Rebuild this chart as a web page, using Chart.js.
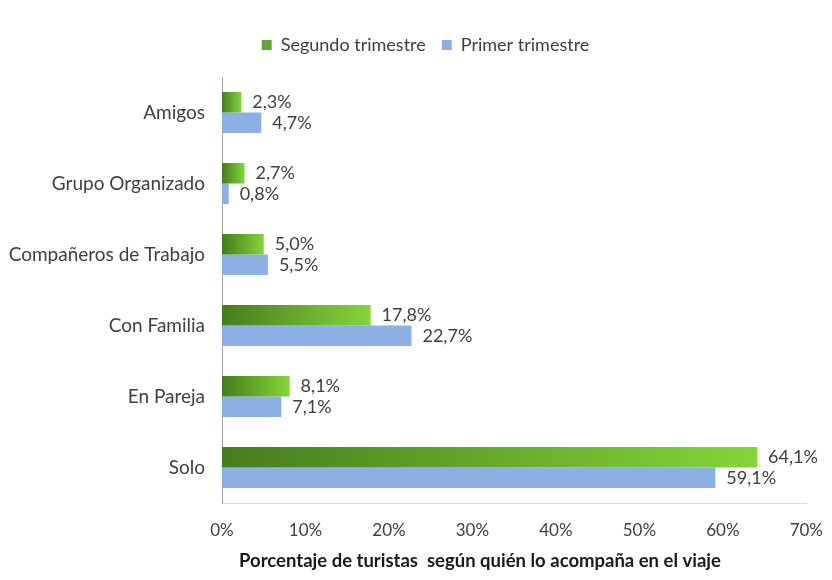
<!DOCTYPE html>
<html lang="es">
<head>
  <meta charset="UTF-8">
  <title>Compañía en el viaje</title>
  <script src="https://cdn.jsdelivr.net/npm/chart.js"></script>
  <style>
    html, body { margin: 0; padding: 0; background: #fff; }
    #wrap { width: 832px; height: 580px; }
  </style>
</head>
<body>
  <div id="wrap"><canvas id="chart" width="832" height="580"></canvas></div>
  <script>
    // datos
    const categories = ['Amigos', 'Grupo Organizado', 'Compañeros de Trabajo', 'Con Familia', 'En Pareja', 'Solo'];
    const segundoTrimestre = [2.3, 2.7, 5.0, 17.8, 8.1, 64.1];
    const primerTrimestre = [4.7, 0.8, 5.5, 22.7, 7.1, 59.1];
    const seriesNames = ['Segundo trimestre', 'Primer trimestre'];
    const xTicks = [0, 10, 20, 30, 40, 50, 60, 70];
    const axisTitle = 'Porcentaje de turistas  según quién lo acompaña en el viaje';

    const FONT = 'Lato, "Open Sans", sans-serif';
    const TEXT = '#404040';

    const fmt = v => v.toFixed(1).replace('.', ',') + '%';

    // degradado verde por barra, oscuro a la izquierda
    function greenFill(ctx) {
      const chart = ctx.chart;
      if (ctx.type !== 'data' || !chart.chartArea) return '#6cbd33';
      const xs = chart.scales.x;
      const x0 = xs.getPixelForValue(0);
      const x1 = xs.getPixelForValue(ctx.raw);
      if (!isFinite(x0) || !isFinite(x1) || x1 - x0 < 1) return '#6cbd33';
      const g = chart.ctx.createLinearGradient(x0, 0, x1, 0);
      g.addColorStop(0, '#467c1d');
      g.addColorStop(1, '#84d53b');
      return g;
    }

    const valueLabels = {
      id: 'valueLabels',
      afterDatasetsDraw(chart) {
        const c = chart.ctx;
        c.save();
        c.font = '18px ' + FONT;
        c.fillStyle = TEXT;
        c.textBaseline = 'middle';
        c.textAlign = 'left';
        chart.data.datasets.forEach((ds, i) => {
          chart.getDatasetMeta(i).data.forEach((bar, j) => {
            c.fillText(fmt(ds.data[j]), bar.x + 11, bar.y);
          });
        });
        c.restore();
      }
    };

    const bottomTitle = {
      id: 'bottomTitle',
      afterDraw(chart) {
        const c = chart.ctx;
        c.save();
        c.font = 'bold 18.5px ' + FONT;
        c.fillStyle = '#1a1a1a';
        c.textAlign = 'center';
        c.textBaseline = 'middle';
        c.fillText(axisTitle, 480, 561);
        c.restore();
      }
    };

    // leyenda: alto fijo y un poco desplazada a la derecha como en el original
    const legendTweak = {
      id: 'legendTweak',
      afterInit(chart) {
        const lg = chart.legend;
        if (!lg) return;
        const fit = lg.fit.bind(lg);
        lg.fit = function () { fit(); this.height = 57; };
        const draw = lg.draw.bind(lg);
        lg.draw = function () {
          const c = this.ctx;
          c.save();
          c.translate(22, 0);
          draw();
          c.restore();
        };
      }
    };

    new Chart(document.getElementById('chart'), {
      type: 'bar',
      data: {
        labels: categories,
        datasets: [
          { label: seriesNames[0], data: segundoTrimestre, backgroundColor: greenFill },
          { label: seriesNames[1], data: primerTrimestre, backgroundColor: '#8cb0e4' }
        ]
      },
      options: {
        indexAxis: 'y',
        responsive: false,
        animation: false,
        categoryPercentage: 0.58,
        barPercentage: 1.0,
        layout: { padding: { top: 20, left: 0, right: 25, bottom: 0 } },
        plugins: {
          tooltip: { enabled: false },
          legend: {
            position: 'top',
            labels: {
              font: { family: FONT, size: 18 },
              color: TEXT,
              boxWidth: 10,
              boxHeight: 10,
              padding: 16,
              generateLabels(chart) {
                const items = Chart.defaults.plugins.legend.labels.generateLabels(chart);
                items[0].fillStyle = '#5ea733';
                items.forEach(it => { it.lineWidth = 0; it.strokeStyle = 'rgba(0,0,0,0)'; });
                return items;
              }
            }
          }
        },
        scales: {
          x: {
            min: 0,
            max: 70,
            afterBuildTicks(scale) { scale.ticks = xTicks.map(v => ({ value: v })); },
            ticks: { callback: v => v + '%', color: TEXT, font: { family: FONT, size: 17 }, padding: 9 },
            grid: { display: false },
            border: { display: true, color: '#d9d9d9' },
            afterFit(scale) { scale.height = 77; }
          },
          y: {
            ticks: { color: TEXT, font: { family: FONT, size: 19 }, padding: 9 },
            grid: { display: false },
            border: { display: true, color: '#a6a6a6' },
            afterFit(scale) { scale.width = 222; }
          }
        }
      },
      plugins: [legendTweak, valueLabels, bottomTitle]
    });
  </script>
</body>
</html>
